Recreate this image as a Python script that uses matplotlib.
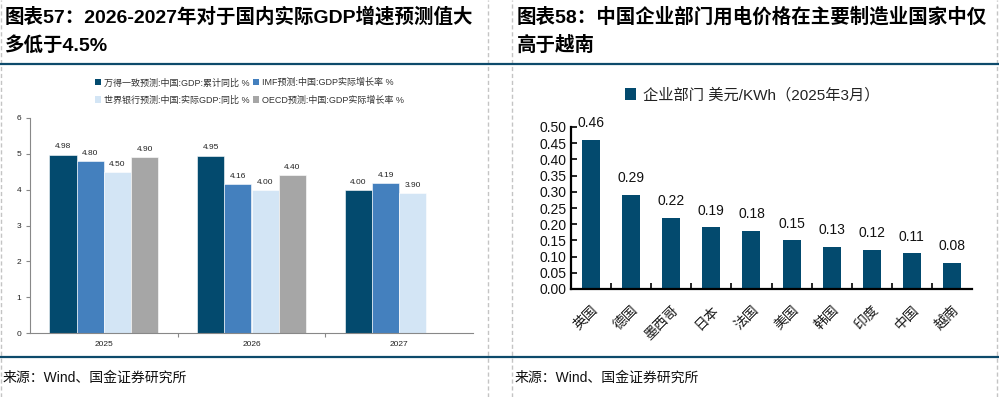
import matplotlib
matplotlib.use("Agg")
import matplotlib.pyplot as plt
import numpy as np
from matplotlib.lines import Line2D
from matplotlib.patches import Patch

plt.rcParams['font.family'] = ['Liberation Sans', 'Noto Sans CJK SC', 'DejaVu Sans']

# ---------------- data ----------------
years = ['2025', '2026', '2027']
series_names = ['万得一致预测:中国:GDP:累计同比 %', 'IMF预测:中国:GDP实际增长率 %',
                '世界银行预测:中国:实际GDP:同比 %', 'OECD预测:中国:GDP实际增长率 %']
wind_vals = [4.98, 4.95, 4.00]
imf_vals = [4.80, 4.16, 4.19]
wb_vals = [4.50, 4.00, 3.90]
oecd_vals = [4.90, 4.40, np.nan]

countries = ['英国', '德国', '墨西哥', '日本', '法国', '美国', '韩国', '印度', '中国', '越南']
prices = [0.46, 0.29, 0.22, 0.19, 0.18, 0.15, 0.13, 0.12, 0.11, 0.08]
price_label = '企业部门 美元/KWh（2025年3月）'

title_left = ['图表57：2026-2027年对于国内实际GDP增速预测值大', '多低于4.5%']
title_right = ['图表58：中国企业部门用电价格在主要制造业国家中仅', '高于越南']
source = '来源：Wind、国金证券研究所'

# ---------------- style ----------------
W, H = 999, 397
NAVY = '#034a6e'
MID = '#4480be'
LIGHT = '#d3e5f5'
GRAY = '#a6a6a6'
LINE = '#0d4a6b'
colors = [NAVY, MID, LIGHT, GRAY]

fig = plt.figure(figsize=(W / 100, H / 100), dpi=100)

def fx(x):
    return x / W

def fy(y):
    return 1 - y / H

# frame lines
for x in [1, 488, 512, 997]:
    fig.add_artist(Line2D([fx(x), fx(x)], [0, 1], color='#c4c4c4', lw=1, ls=(0, (3, 2))))
for y in [64, 357]:
    fig.add_artist(Line2D([0, 1], [fy(y), fy(y)], color=LINE, lw=1.6))

# titles
for i, t in enumerate(title_left):
    fig.text(fx(5), fy(17 + 28 * i), t, fontsize=14, fontweight='bold', va='center', ha='left')
for i, t in enumerate(title_right):
    fig.text(fx(517), fy(17 + 28 * i), t, fontsize=14, fontweight='bold', va='center', ha='left')

# sources
fig.text(fx(3), fy(378), source, fontsize=10, va='center', ha='left', color='#111111')
fig.text(fx(515), fy(378), source, fontsize=10, va='center', ha='left', color='#111111')

# ---------------- left chart ----------------
axL = fig.add_axes([fx(30), fy(333), fx(473) - fx(30), fy(118) - fy(333)])
x = np.arange(len(years))
bw = 0.184
all_vals = [wind_vals, imf_vals, wb_vals, oecd_vals]
for k, vals in enumerate(all_vals):
    axL.bar(x + (k - 1.5) * bw, vals, bw, color=colors[k], edgecolor='white', linewidth=0.4)
    for xi, v in zip(x + (k - 1.5) * bw, vals):
        if not np.isnan(v):
            axL.annotate(f'{v:.2f}', (xi, v), xytext=(0, 3), textcoords='offset points',
                         ha='center', va='bottom', fontsize=6, color='#222222')
axL.set_xlim(-0.5, 2.5)
axL.set_ylim(0, 6)
axL.set_yticks(range(0, 7))
axL.set_xticks([0.5, 1.5], minor=False)
axL.set_xticks(x, minor=True)
axL.set_xticklabels([])
axL.set_xticklabels(years, minor=True)
axL.tick_params(axis='x', which='major', direction='out', length=3, color='#888888')
axL.tick_params(axis='x', which='minor', length=0, labelsize=6, pad=6, labelcolor='#222222')
axL.tick_params(axis='y', direction='out', length=3, color='#888888', labelsize=6, labelcolor='#222222')
for s in ['top', 'right']:
    axL.spines[s].set_visible(False)
for s in ['left', 'bottom']:
    axL.spines[s].set_color('#888888')
    axL.spines[s].set_linewidth(0.8)

handles = [Patch(facecolor=c) for c in colors]
order = [0, 2, 1, 3]
fig.legend([handles[i] for i in order], [series_names[i] for i in order],
           ncol=2, loc='center left', bbox_to_anchor=(fx(90), fy(91.5)),
           frameon=False, fontsize=6.5, handlelength=0.7, handleheight=0.7,
           handletextpad=0.3, columnspacing=0.4, labelspacing=0.9, borderpad=0,
           labelcolor='#333333')

# ---------------- right chart ----------------
axR = fig.add_axes([fx(571), fy(289), fx(972) - fx(571), fy(127) - fy(289)])
xr = np.arange(len(countries))
axR.bar(xr, prices, 0.45, color=NAVY, label=price_label)
for xi, v in zip(xr, prices):
    axR.annotate(f'{v:.2f}', (xi, v), xytext=(0, 7), textcoords='offset points',
                 ha='center', va='bottom', fontsize=10, color='#111111')
axR.set_xlim(-0.5, 9.5)
axR.set_ylim(0, 0.5)
axR.set_yticks(np.arange(0, 0.501, 0.05))
axR.set_yticklabels([f'{v:.2f}' for v in np.arange(0, 0.501, 0.05)])
axR.set_xticks(np.arange(0.5, 9.5, 1.0))
axR.set_xticklabels([])
axR.set_xticks(xr, minor=True)
axR.set_xticklabels(countries, minor=True, rotation=45, ha='right', rotation_mode='anchor')
axR.tick_params(axis='x', which='major', direction='in', length=4, width=1.2, color='black')
axR.tick_params(axis='x', which='minor', length=0, labelsize=10, pad=10, labelcolor='#1a1a1a')
axR.tick_params(axis='y', direction='in', length=4, width=1.2, labelsize=10, pad=3, labelcolor='#111111')
for s in ['top', 'right']:
    axR.spines[s].set_visible(False)
for s in ['left', 'bottom']:
    axR.spines[s].set_color('black')
    axR.spines[s].set_linewidth(1.6)

fig.legend(handles=[Patch(facecolor=NAVY)], labels=[price_label],
           loc='center', bbox_to_anchor=(fx(752), fy(95)), frameon=False,
           fontsize=11, handlelength=0.75, handleheight=0.75, handletextpad=0.4,
           borderpad=0, labelcolor='#222222')

fig.savefig('out.png', dpi=100)
